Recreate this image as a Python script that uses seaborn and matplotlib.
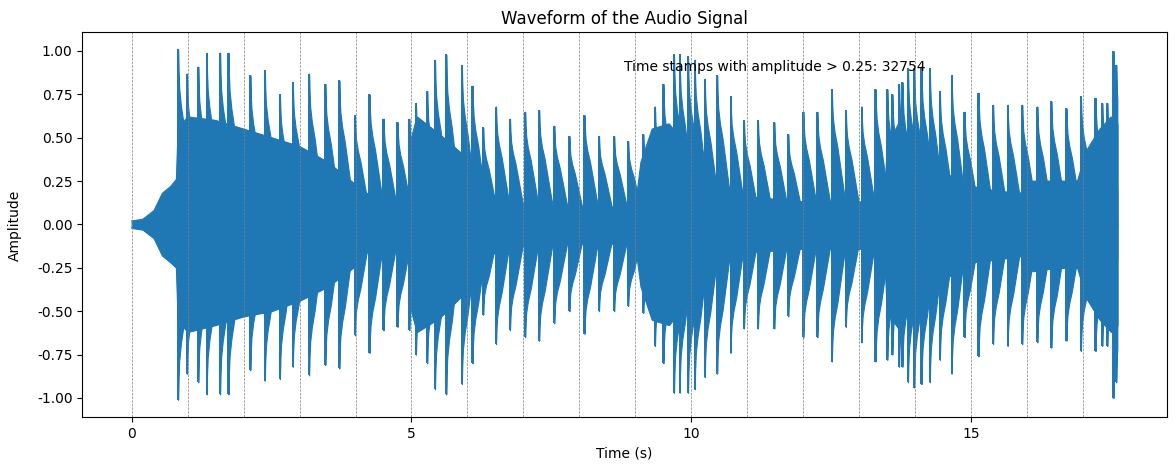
import numpy as np
import pandas as pd
import matplotlib
matplotlib.use("Agg")
import matplotlib.pyplot as plt
import seaborn as sns

duration = 17.61
n_above = 32754

# slowly varying part of the signal (envelope)
body_time = [0.00, 0.20, 0.40, 0.55, 0.70, 0.80, 0.83, 1.0, 1.5, 2.0, 2.5, 3.0, 3.5, 4.0, 4.2, 4.6, 4.95,
             5.0, 5.1, 5.5, 6.0, 6.3, 6.6, 7.0, 8.0, 9.0, 9.1, 9.3, 9.6, 10.0, 10.2, 10.6, 11.0, 12.0,
             13.0, 13.45, 13.5, 13.7, 14.0, 14.5, 15.0, 15.5, 15.95, 16.1, 16.5, 16.9, 17.05, 17.3, 17.5, 17.61]
body_upper = [0.02, 0.03, 0.08, 0.18, 0.22, 0.26, 0.55, 0.62, 0.60, 0.55, 0.50, 0.45, 0.36, 0.23, 0.18, 0.14, 0.11,
              0.50, 0.62, 0.52, 0.38, 0.20, 0.13, 0.11, 0.10, 0.10, 0.36, 0.55, 0.58, 0.42, 0.32, 0.22, 0.16, 0.13,
              0.13, 0.14, 0.45, 0.58, 0.42, 0.30, 0.22, 0.19, 0.18, 0.25, 0.25, 0.25, 0.42, 0.55, 0.62, 0.58]
body_lower = [-0.02, -0.03, -0.08, -0.18, -0.22, -0.25, -0.55, -0.62, -0.58, -0.53, -0.50, -0.44, -0.36, -0.24, -0.16, -0.14, -0.12,
              -0.50, -0.62, -0.54, -0.38, -0.20, -0.14, -0.12, -0.11, -0.11, -0.36, -0.55, -0.58, -0.42, -0.30, -0.22, -0.16, -0.14,
              -0.14, -0.15, -0.50, -0.60, -0.42, -0.32, -0.22, -0.20, -0.18, -0.27, -0.25, -0.25, -0.42, -0.55, -0.62, -0.58]

# note onsets: time and peak amplitudes
onset_time = [0.83, 0.99, 1.19, 1.34, 1.58, 1.73, 2.12, 2.38, 2.65, 2.88, 3.17, 3.46, 3.71, 3.99, 4.25, 4.50,
              4.75, 4.96, 5.08, 5.28, 5.42, 5.62, 5.90, 6.09, 6.28, 6.51, 6.76, 7.03, 7.28, 7.55, 7.82, 8.09,
              8.35, 8.62, 8.87, 9.14, 9.35, 9.50, 9.69, 9.79, 9.94, 10.06, 10.24, 10.46, 10.70, 10.94, 11.19,
              11.48, 11.73, 12.00, 12.25, 12.51, 12.76, 13.04, 13.29, 13.50, 13.59, 13.71, 13.77, 13.87, 13.98,
              14.11, 14.26, 14.44, 14.65, 14.88, 15.13, 15.39, 15.65, 15.91, 16.18, 16.43, 16.70, 16.96, 17.22,
              17.34, 17.43, 17.54, 17.59]
onset_peak = [1.01, 0.87, 0.91, 0.99, 0.99, 0.99, 0.86, 0.89, 0.75, 0.82, 0.87, 0.81, 0.83, 0.63, 0.75, 0.61,
              0.59, 0.61, 0.70, 0.77, 0.95, 0.98, 0.92, 0.80, 0.56, 0.68, 0.61, 0.65, 0.66, 0.57, 0.51, 0.63,
              0.51, 0.51, 0.48, 0.52, 0.68, 0.81, 0.98, 0.98, 0.97, 0.95, 0.84, 0.86, 0.74, 0.60, 0.60,
              0.59, 0.52, 0.65, 0.65, 0.78, 0.66, 0.68, 0.78, 0.78, 0.75, 0.81, 0.82, 0.90, 0.90,
              0.91, 0.90, 0.77, 0.86, 0.65, 0.76, 0.69, 0.69, 0.69, 0.68, 0.71, 0.67, 0.74, 0.73,
              0.70, 0.70, 1.00, 0.92]
onset_trough = [-1.01, -0.86, -0.91, -0.98, -0.98, -0.98, -0.84, -0.90, -0.89, -0.82, -0.87, -0.81, -0.83, -0.64, -0.74, -0.61,
                -0.59, -0.61, -0.75, -0.80, -0.95, -0.98, -0.92, -0.80, -0.52, -0.69, -0.61, -0.65, -0.67, -0.57, -0.50, -0.63,
                -0.50, -0.50, -0.47, -0.51, -0.70, -0.80, -0.97, -0.97, -0.97, -0.95, -0.88, -0.86, -0.74, -0.60, -0.60,
                -0.60, -0.53, -0.65, -0.65, -0.79, -0.59, -0.68, -0.79, -0.78, -0.75, -0.82, -0.82, -0.91, -0.94,
                -0.92, -0.91, -0.78, -0.86, -0.65, -0.76, -0.69, -0.70, -0.69, -0.68, -0.71, -0.67, -0.73, -0.73,
                -0.70, -0.70, -1.00, -0.91]

color = "#1f77b4"

fig, ax = plt.subplots(figsize=(11.76, 4.70), dpi=100)
fig.subplots_adjust(left=0.070, right=0.992, top=0.931, bottom=0.112)

body = pd.DataFrame({"t": body_time, "up": body_upper, "lo": body_lower})
ax.fill_between(body["t"], body["lo"], body["up"], color=color, linewidth=0.8)
sns.lineplot(data=body, x="t", y="up", color=color, linewidth=0.8, ax=ax)
sns.lineplot(data=body, x="t", y="lo", color=color, linewidth=0.8, ax=ax)

# each note: sharp attack, then a decay back into the body
decay_x = np.array([0.0, 0.008, 0.02, 0.05, 0.10, 0.20, 0.30])
decay_f = np.array([1.0, 0.88, 0.78, 0.68, 0.57, 0.28, 0.0])
for t, p, q in zip(onset_time, onset_peak, onset_trough):
    xs = np.minimum(t + decay_x, duration)
    ax.fill_between(xs, q * decay_f, p * decay_f, color=color, linewidth=0.8)
ax.vlines(onset_time, onset_trough, onset_peak, color=color, linewidth=1.4)

for s in range(int(duration) + 1):
    ax.axvline(s, color="gray", linestyle="--", linewidth=0.5)

ax.text(0.5, 0.9, f"Time stamps with amplitude > 0.25: {n_above}", transform=ax.transAxes)

ax.set_xlim(-0.05 * duration, 1.05 * duration)
ax.set_ylim(-1.112, 1.107)
ax.set_yticks(np.arange(-1.0, 1.01, 0.25))
ax.yaxis.set_major_formatter(matplotlib.ticker.FormatStrFormatter("%.2f"))
ax.set_xticks([0, 5, 10, 15])
ax.set_title("Waveform of the Audio Signal")
ax.set_xlabel("Time (s)")
ax.set_ylabel("Amplitude", labelpad=11)

fig.savefig("out.png", dpi=100)
